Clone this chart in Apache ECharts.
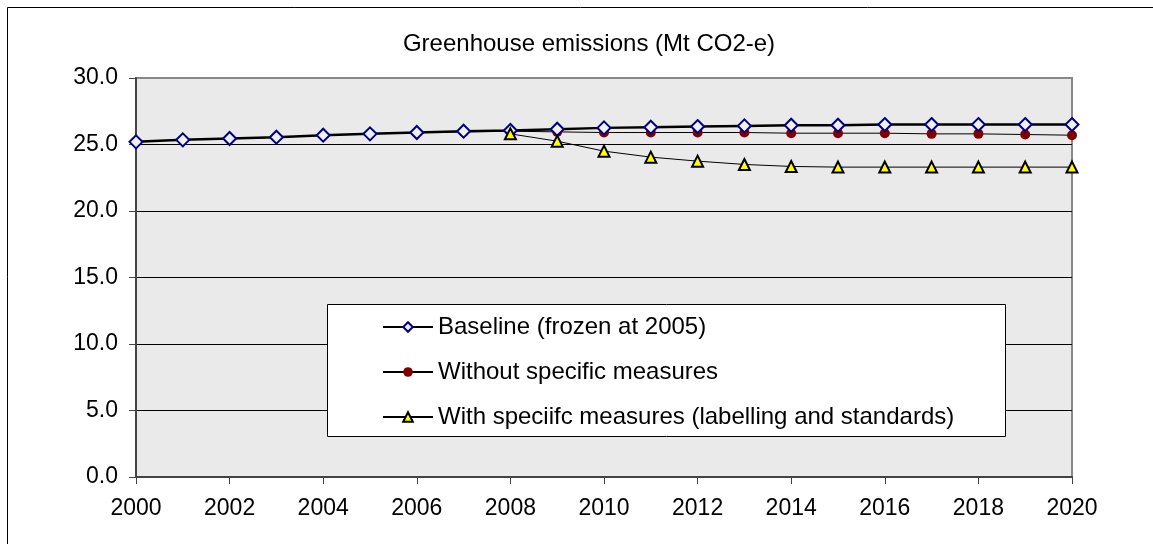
<!DOCTYPE html>
<html lang="en">
<head>
    <meta charset="UTF-8">
    <title>Greenhouse emissions</title>
    <style>
        * {
            margin: 0;
            padding: 0;
        }

        .main {
            width: 1153px;
            height: 544px;
        }
    </style>
</head>
<body>
<div id="main" class="main"></div>
<script src="https://cdn.jsdelivr.net/npm/echarts@6/dist/echarts.min.js"></script>
<script>
    var years = ['2000', '2001', '2002', '2003', '2004', '2005', '2006', '2007', '2008', '2009', '2010',
        '2011', '2012', '2013', '2014', '2015', '2016', '2017', '2018', '2019', '2020'];
    var baseline = [25.2, 25.35, 25.45, 25.55, 25.7, 25.8, 25.9, 26.0, 26.05, 26.15, 26.25,
        26.3, 26.35, 26.4, 26.45, 26.45, 26.5, 26.5, 26.5, 26.5, 26.5];
    var withoutMeasures = [null, null, null, null, null, 25.8, 25.9, 25.95, 26.0, 25.95, 25.9,
        25.9, 25.9, 25.9, 25.85, 25.85, 25.85, 25.8, 25.8, 25.75, 25.7];
    var withMeasures = [null, null, null, null, null, null, null, null, 25.8, 25.25, 24.5,
        24.05, 23.75, 23.5, 23.35, 23.3, 23.3, 23.3, 23.3, 23.3, 23.3];

    var font = 'Liberation Sans, Arial, sans-serif';

    var myChart = echarts.init(document.getElementById('main'), null, {renderer: 'canvas'});

    myChart.setOption({
        backgroundColor: '#ffffff',
        animation: false,
        title: {
            text: 'Greenhouse emissions (Mt CO2-e)',
            left: 584,
            top: 27,
            textAlign: 'center',
            textStyle: {fontFamily: font, fontSize: 24, fontWeight: 'normal', color: '#000'}
        },
        graphic: [
            {
                type: 'rect',
                z: 0,
                shape: {x: 7.5, y: 7.5, width: 1200, height: 600},
                style: {fill: 'none', stroke: '#000', lineWidth: 1}
            },
            {
                type: 'rect',
                z: 10,
                shape: {x: 327.5, y: 304.5, width: 678, height: 132},
                style: {fill: '#fff', stroke: '#000', lineWidth: 1}
            }
        ],
        legend: {
            z: 20,
            orient: 'vertical',
            left: 382,
            top: 315,
            padding: 0,
            itemWidth: 50,
            itemHeight: 12,
            itemGap: 21,
            textStyle: {fontFamily: font, fontSize: 24, color: '#000'},
            data: ['Baseline (frozen at 2005)', 'Without specific measures',
                'With speciifc measures (labelling and standards)']
        },
        grid: {
            left: 136,
            top: 78,
            right: 81,
            bottom: 67,
            show: true,
            backgroundColor: '#eaeaea',
            borderColor: '#888',
            borderWidth: 2
        },
        xAxis: {
            type: 'category',
            data: years,
            boundaryGap: false,
            axisLine: {lineStyle: {color: '#444', width: 2}},
            axisTick: {interval: 1, length: 7, lineStyle: {color: '#444', width: 1}},
            axisLabel: {interval: 1, margin: 20, fontFamily: font, fontSize: 23, color: '#000'},
            splitLine: {show: false}
        },
        yAxis: {
            type: 'value',
            min: 0,
            max: 30,
            interval: 5,
            axisLine: {show: true, lineStyle: {color: '#444', width: 2}},
            axisTick: {show: true, length: 7, lineStyle: {color: '#444', width: 1}},
            axisLabel: {
                margin: 18, fontFamily: font, fontSize: 23, color: '#000',
                formatter: function (v) { return v.toFixed(1); }
            },
            splitLine: {show: true, showMaxLine: false, showMinLine: false, lineStyle: {color: '#000', width: 1}}
        },
        series: [
            {
                name: 'Baseline (frozen at 2005)',
                type: 'line',
                data: baseline,
                z: 4,
                symbol: 'diamond',
                symbolSize: 13,
                lineStyle: {color: '#000', width: 2.5},
                itemStyle: {color: '#f0f0f0', borderColor: '#000080', borderWidth: 2}
            },
            {
                name: 'Without specific measures',
                type: 'line',
                data: withoutMeasures,
                z: 3,
                symbol: 'circle',
                symbolSize: 10,
                lineStyle: {color: '#000', width: 1},
                itemStyle: {color: '#800000', borderColor: '#800000', borderWidth: 0}
            },
            {
                name: 'With speciifc measures (labelling and standards)',
                type: 'line',
                data: withMeasures,
                z: 5,
                symbol: 'triangle',
                symbolSize: 11,
                lineStyle: {color: '#000', width: 1},
                itemStyle: {color: '#ffff00', borderColor: '#000', borderWidth: 2}
            }
        ]
    });
</script>
</body>
</html>
